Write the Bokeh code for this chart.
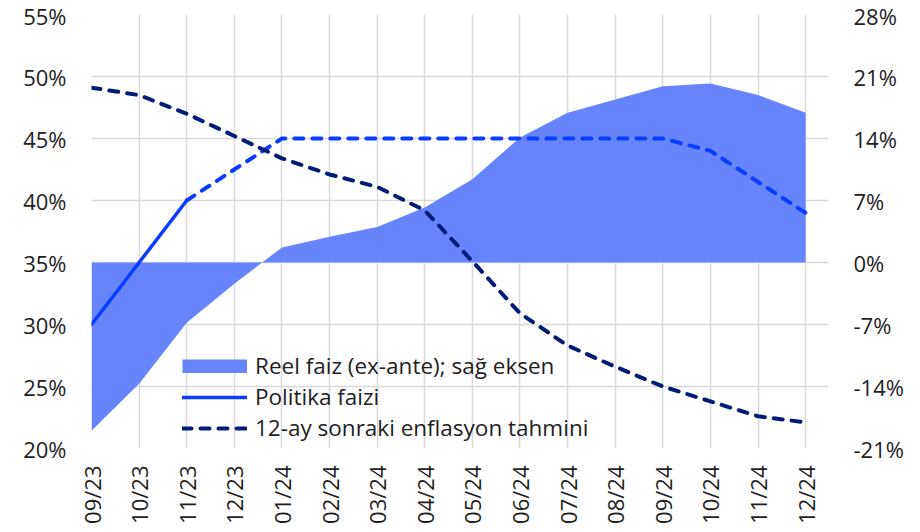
import math
from bokeh.plotting import figure
from bokeh.models import Range1d, LinearAxis, FixedTicker, Legend, LegendItem
from bokeh.embed import file_html
from bokeh.resources import INLINE

# ---- data ----
months = ["09/23", "10/23", "11/23", "12/23", "01/24", "02/24", "03/24", "04/24",
          "05/24", "06/24", "07/24", "08/24", "09/24", "10/24", "11/24", "12/24"]
# real interest rate (ex-ante), right axis, %
real_rate = [-19.0, -13.7, -6.8, -2.4, 1.7, 2.9, 4.0, 6.2,
             9.4, 14.1, 16.9, 18.4, 19.9, 20.2, 18.9, 16.9]
# policy rate, left axis, %
policy_rate = [30.0, 35.0, 40.0, 42.5, 45.0, 45.0, 45.0, 45.0,
               45.0, 45.0, 45.0, 45.0, 45.0, 44.0, 41.5, 39.0]
policy_actual_count = 3  # solid through 11/23, forecast afterwards
# 12-month-ahead inflation expectation, left axis, %
inflation = [49.1, 48.5, 47.0, 45.2, 43.4, 42.1, 41.1, 39.2,
             35.1, 30.9, 28.3, 26.6, 25.0, 23.8, 22.6, 22.1]
left_ticks = [20, 25, 30, 35, 40, 45, 50, 55]
right_ticks = [-21, -14, -7, 0, 7, 14, 21, 28]

labels = ["Reel faiz (ex-ante); sağ eksen", "Politika faizi", "12-ay sonraki enflasyon tahmini"]

AREA = "#6685fc"
POLICY = "#0a3cff"
INFL = "#001c78"
GRID = "#d9d9d9"
TXT = "#1e1e1e"
FONT = "Open Sans"
FS = "22px"

x = list(range(len(months)))

p = figure(width=912, height=526, output_backend="svg", toolbar_location=None,
           x_range=Range1d(0, len(months) - 0.52), y_range=Range1d(left_ticks[0], left_ticks[-1]),
           min_border_left=91, min_border_right=84, min_border_top=14, min_border_bottom=75)
p.extra_y_ranges = {"right": Range1d(right_ticks[0], right_ticks[-1])}
p.outline_line_color = None
p.background_fill_color = "white"
p.border_fill_color = "white"

# axes
p.xaxis.ticker = FixedTicker(ticks=x)
p.xaxis.major_label_overrides = {i: m for i, m in zip(x, months)}
p.xaxis.major_label_orientation = math.pi / 2
p.yaxis.ticker = FixedTicker(ticks=left_ticks)
p.yaxis.major_label_overrides = {t: f"{t}%" for t in left_ticks}

raxis = LinearAxis(y_range_name="right", ticker=FixedTicker(ticks=right_ticks),
                   major_label_overrides={t: f"{t}%" for t in right_ticks})
p.add_layout(raxis, "right")

for ax in [p.xaxis[0], p.yaxis[0], raxis]:
    ax.axis_line_color = None
    ax.major_tick_line_color = None
    ax.minor_tick_line_color = None
    ax.major_tick_out = 0
    ax.major_tick_in = 0
    ax.major_label_text_font = FONT
    ax.major_label_text_font_size = FS
    ax.major_label_text_color = TXT
p.xaxis.major_label_standoff = 17
p.yaxis.major_label_standoff = 25
raxis.major_label_standoff = 25

# grids
p.xgrid.ticker = FixedTicker(ticks=x)
p.ygrid.ticker = FixedTicker(ticks=left_ticks)
p.xgrid.grid_line_color = GRID
p.ygrid.grid_line_color = GRID
p.xgrid.grid_line_width = 1.5
p.ygrid.grid_line_width = 1.5

# glyphs
area = p.varea(x=x, y1=[0] * len(x), y2=real_rate, y_range_name="right", fill_color=AREA)
pol_solid = p.line(x[:policy_actual_count], policy_rate[:policy_actual_count],
                   line_color=POLICY, line_width=3.5, line_cap="round")
pol_dash = p.line(x[policy_actual_count - 1:], policy_rate[policy_actual_count - 1:],
                  line_color=POLICY, line_width=4, line_dash="9 9", line_cap="round")
infl = p.line(x, inflation, line_color=INFL, line_width=4, line_dash="9 9", line_cap="round")

# legend proxy for the area swatch (full-width solid block); NaN data draws nothing in the plot
area_key = p.line(x=[float("nan")], y=[float("nan")], line_color=AREA, line_width=14, line_cap="butt")

legend = Legend(items=[LegendItem(label=labels[0], renderers=[area_key]),
                       LegendItem(label=labels[1], renderers=[pol_solid]),
                       LegendItem(label=labels[2], renderers=[infl])],
                location=(91, 5))
legend.label_text_font = FONT
legend.label_text_font_size = "22.5px"
legend.label_text_color = TXT
legend.glyph_width = 65
legend.glyph_height = 14
legend.label_standoff = 8
legend.spacing = -2
legend.padding = 0
legend.margin = 0
legend.border_line_color = None
legend.background_fill_alpha = 0
p.add_layout(legend)

open("out.html", "w").write(file_html(p, INLINE))
